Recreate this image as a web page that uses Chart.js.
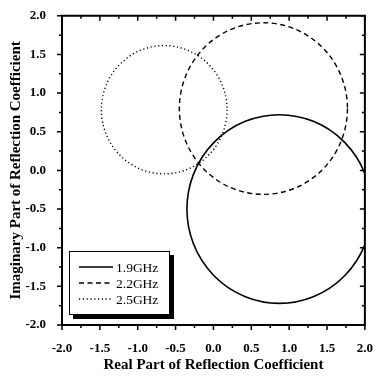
<!DOCTYPE html>
<html>
<head>
<meta charset="utf-8">
<script src="https://cdn.jsdelivr.net/npm/chart.js@4"></script>
<style>
  html, body { margin: 0; padding: 0; background: #fff; }
  canvas { display: block; }
</style>
</head>
<body>
<canvas id="chart" width="381" height="378"></canvas>
<script>
// circle loci (reflection coefficient plane)
const freqLabels = ["1.9GHz", "2.2GHz", "2.5GHz"];
const centerRe = [0.87, 0.66, -0.65];
const centerIm = [-0.50, 0.80, 0.785];
const radius = [1.22, 1.11, 0.83];
const lineDash = [[], [5, 3.5], [1.2, 2.6]];
const axisMin = -2, axisMax = 2, axisStep = 0.5;

const serif = "'Liberation Serif', 'Times New Roman', serif";

// draws the circles, the frame with Origin-style ticks and the boxed legend
const circlePlugin = {
  id: "circles",
  afterDatasetsDraw(chart) {
    const ctx = chart.ctx;
    const xs = chart.scales.x, ys = chart.scales.y;
    const area = chart.chartArea;

    ctx.save();
    ctx.beginPath();
    ctx.rect(area.left, area.top, area.right - area.left, area.bottom - area.top);
    ctx.clip();
    chart.data.datasets.forEach((ds, i) => {
      const px = xs.getPixelForValue(centerRe[i]);
      const py = ys.getPixelForValue(centerIm[i]);
      const rx = xs.getPixelForValue(centerRe[i] + radius[i]) - px;
      const ry = py - ys.getPixelForValue(centerIm[i] + radius[i]);
      ctx.beginPath();
      ctx.setLineDash(ds.borderDash || []);
      ctx.lineWidth = ds.borderWidth;
      ctx.strokeStyle = ds.borderColor;
      ctx.ellipse(px, py, rx, ry, 0, 0, Math.PI * 2);
      ctx.stroke();
    });
    ctx.restore();

    // frame
    ctx.save();
    ctx.strokeStyle = "#000";
    ctx.setLineDash([]);
    ctx.lineWidth = 2;
    ctx.beginPath();
    ctx.moveTo(area.left, area.top);
    ctx.lineTo(area.left, area.bottom);
    ctx.lineTo(area.right, area.bottom);
    ctx.lineTo(area.right, area.top);
    ctx.closePath();
    ctx.stroke();

    // ticks: outward on left/bottom, inward on top/right
    ctx.lineWidth = 1.5;
    ctx.beginPath();
    for (let v = axisMin; v <= axisMax + 1e-9; v += axisStep / 2) {
      const major = Math.abs(v / axisStep - Math.round(v / axisStep)) < 1e-6;
      const len = major ? 5 : 3;
      const x = xs.getPixelForValue(v);
      const y = ys.getPixelForValue(v);
      ctx.moveTo(x, area.bottom); ctx.lineTo(x, area.bottom + len);
      ctx.moveTo(x, area.top); ctx.lineTo(x, area.top + len);
      ctx.moveTo(area.left, y); ctx.lineTo(area.left - len, y);
      ctx.moveTo(area.right, y); ctx.lineTo(area.right - len, y);
    }
    ctx.stroke();

    // legend box with drop shadow
    const bx = area.left + 7, by = area.bottom - 74, bw = 101, bh = 64;
    ctx.fillStyle = "#000";
    ctx.fillRect(bx + 4, by + 4, bw, bh);
    ctx.fillStyle = "#fff";
    ctx.fillRect(bx, by, bw, bh);
    ctx.lineWidth = 1;
    ctx.strokeRect(bx + 0.5, by + 0.5, bw - 1, bh - 1);

    ctx.font = "13.5px " + serif;
    ctx.textBaseline = "middle";
    ctx.textAlign = "left";
    chart.data.datasets.forEach((ds, i) => {
      const ly = by + 16 + i * 16;
      ctx.beginPath();
      ctx.setLineDash(ds.borderDash || []);
      ctx.lineWidth = ds.borderWidth;
      ctx.strokeStyle = ds.borderColor;
      ctx.moveTo(bx + 10, ly);
      ctx.lineTo(bx + 44, ly);
      ctx.stroke();
      ctx.fillStyle = "#000";
      ctx.fillText(ds.label, bx + 47, ly + 1);
    });
    ctx.restore();
  }
};

const datasets = freqLabels.map((lab, i) => ({
  label: lab,
  data: [{ x: centerRe[i], y: centerIm[i] }],
  borderColor: "#000",
  borderWidth: i === 0 ? 1.6 : 1.4,
  borderDash: lineDash[i],
  pointRadius: 0,
  showLine: false
}));

new Chart(document.getElementById("chart"), {
  type: "scatter",
  data: { datasets: datasets },
  options: {
    responsive: false,
    animation: false,
    devicePixelRatio: 1,
    layout: { padding: { top: 13, right: 9, left: 0, bottom: 0 } },
    plugins: { legend: { display: false }, tooltip: { enabled: false } },
    scales: {
      x: {
        type: "linear", min: axisMin, max: axisMax,
        grid: { display: false }, border: { display: false },
        ticks: {
          stepSize: axisStep, padding: 8, color: "#000",
          font: { family: serif, size: 13, weight: "bold" },
          callback: v => v.toFixed(1)
        },
        title: {
          display: true, text: "Real Part of Reflection Coefficient", color: "#000",
          font: { family: serif, size: 15, weight: "bold" },
          padding: { top: 0, bottom: 4 }
        },
        afterFit: s => { s.height = 53; }
      },
      y: {
        type: "linear", min: axisMin, max: axisMax,
        grid: { display: false }, border: { display: false },
        ticks: {
          stepSize: axisStep, padding: 8, color: "#000",
          font: { family: serif, size: 13, weight: "bold" },
          callback: v => v.toFixed(1)
        },
        title: {
          display: true, text: "Imaginary Part of Reflection Coefficient", color: "#000",
          font: { family: serif, size: 15, weight: "bold" },
          padding: { top: 7, bottom: 0 }
        },
        afterFit: s => { s.width = 62; }
      }
    }
  },
  plugins: [circlePlugin]
});
</script>
</body>
</html>
